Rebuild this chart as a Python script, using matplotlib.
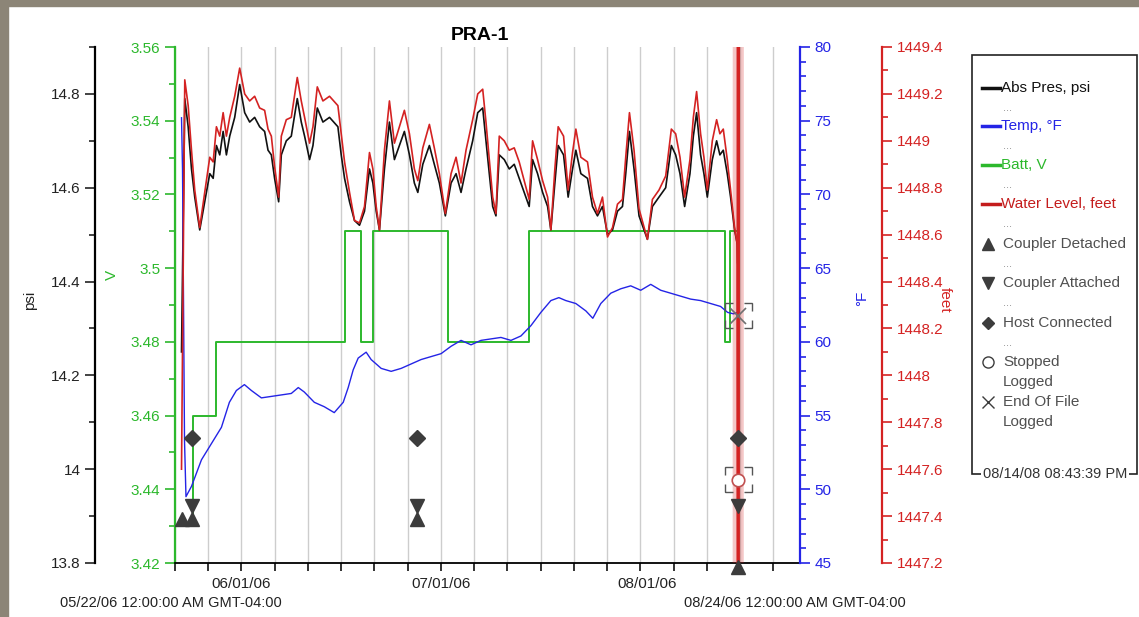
import matplotlib.pyplot as plt
import matplotlib.dates as mdates
import numpy as np
import pandas as pd
from matplotlib.lines import Line2D
from matplotlib.patches import Rectangle
from matplotlib.ticker import MultipleLocator, FuncFormatter, NullFormatter

plt.rcParams['font.family'] = ['Liberation Sans', 'DejaVu Sans']

start = pd.Timestamp('2006-05-22 00:00')
end = pd.Timestamp('2006-08-24 00:00')

# readings, time in days since 05/22/06 00:00
level_days = [0.98, 1.47, 1.98, 2.48, 2.97, 3.72, 4.47, 5.23, 5.74, 6.23, 6.73, 7.24, 7.73, 8.23,
              8.98, 9.73, 10.48, 11.23, 11.98, 12.73, 13.48, 13.99, 14.49, 14.98, 15.59, 15.99,
              16.74, 17.49, 18.39, 18.99, 19.49, 20.24, 20.75, 21.40, 22.25, 23.24, 24.50, 25.00,
              25.50, 26.25, 27.00, 27.75, 28.50, 29.25, 29.76, 30.26, 30.75, 31.50, 32.25, 33.00,
              33.75, 34.50, 35.26, 36.00, 36.52, 37.27, 38.26, 39.00, 39.76, 40.66, 41.52, 42.27,
              43.02, 43.77, 44.77, 45.53, 46.28, 46.77, 47.27, 47.78, 48.27, 48.77, 49.52, 50.27,
              51.02, 51.77, 52.52, 53.27, 53.78, 54.53, 55.29, 56.04, 56.53, 57.13, 57.63, 58.44,
              59.13, 59.79, 60.29, 61.04, 62.04, 62.79, 63.54, 64.29, 65.05, 65.80, 66.55, 67.30,
              67.79, 68.35, 69.04, 69.79, 71.05, 71.80, 72.79, 73.80, 74.65, 75.30, 75.95, 76.65,
              77.45, 77.96, 78.45, 79.05, 79.55, 80.06, 80.81, 81.46, 81.95, 82.46, 83.06, 83.56,
              84.16, 84.56]
pres_psi = [14.25, 14.79, 14.73, 14.64, 14.58, 14.51, 14.57, 14.63, 14.62, 14.69, 14.67, 14.72,
            14.67, 14.71, 14.75, 14.82, 14.76, 14.74, 14.75, 14.73, 14.72, 14.68, 14.67, 14.62,
            14.57, 14.67, 14.70, 14.71, 14.79, 14.74, 14.71, 14.66, 14.69, 14.77, 14.74, 14.75,
            14.73, 14.67, 14.62, 14.57, 14.53, 14.52, 14.55, 14.64, 14.61, 14.55, 14.51, 14.64,
            14.74, 14.66, 14.69, 14.72, 14.67, 14.61, 14.59, 14.65, 14.69, 14.65, 14.61, 14.54,
            14.61, 14.63, 14.59, 14.64, 14.70, 14.76, 14.77, 14.70, 14.63, 14.56, 14.54, 14.67,
            14.66, 14.64, 14.65, 14.62, 14.59, 14.56, 14.66, 14.63, 14.59, 14.56, 14.51, 14.61,
            14.69, 14.67, 14.58, 14.64, 14.68, 14.63, 14.62, 14.56, 14.54, 14.56, 14.50, 14.51,
            14.55, 14.56, 14.63, 14.72, 14.64, 14.54, 14.49, 14.56, 14.58, 14.60, 14.69, 14.67,
            14.63, 14.56, 14.63, 14.71, 14.76, 14.67, 14.63, 14.58, 14.66, 14.70, 14.67, 14.68,
            14.63, 14.58, 14.51, 14.48]
water_ft = [1447.60, 1449.26, 1449.15, 1448.96, 1448.79, 1448.63, 1448.78, 1448.93, 1448.91,
            1449.06, 1449.02, 1449.12, 1449.02, 1449.10, 1449.19, 1449.31, 1449.20, 1449.17,
            1449.19, 1449.14, 1449.13, 1449.05, 1449.02, 1448.89, 1448.76, 1449.02, 1449.09,
            1449.10, 1449.27, 1449.17, 1449.10, 1448.99, 1449.06, 1449.23, 1449.17, 1449.19,
            1449.15, 1449.03, 1448.91, 1448.78, 1448.66, 1448.65, 1448.72, 1448.95, 1448.88,
            1448.72, 1448.62, 1448.96, 1449.17, 1448.99, 1449.06, 1449.13, 1449.03, 1448.88,
            1448.83, 1448.97, 1449.07, 1448.97, 1448.86, 1448.69, 1448.86, 1448.93, 1448.82,
            1448.96, 1449.09, 1449.20, 1449.22, 1449.08, 1448.92, 1448.76, 1448.69, 1449.02,
            1449.00, 1448.96, 1448.97, 1448.91, 1448.83, 1448.75, 1449.00, 1448.92, 1448.83,
            1448.76, 1448.62, 1448.88, 1449.06, 1449.02, 1448.79, 1448.95, 1449.05, 1448.93,
            1448.91, 1448.76, 1448.69, 1448.76, 1448.59, 1448.63, 1448.73, 1448.75, 1448.93,
            1449.12, 1448.96, 1448.71, 1448.58, 1448.75, 1448.79, 1448.85, 1449.05, 1449.03,
            1448.93, 1448.76, 1448.92, 1449.10, 1449.21, 1449.03, 1448.93, 1448.79, 1449.00,
            1449.09, 1449.03, 1449.05, 1448.92, 1448.79, 1448.63, 1448.56]
# logger pulled out at the end
pres_tail_days = [84.62]
pres_tail = [14.44]
water_tail_days = [84.70, 84.72]
water_tail = [1446.5, 1450.0]

temp_days = [0.98, 1.13, 1.28, 1.43, 1.65, 2.48, 3.23, 3.98, 5.48, 6.98, 8.18, 9.23, 10.44, 11.49,
             12.99, 14.49, 15.99, 17.49, 18.54, 19.44, 20.95, 22.45, 23.95, 25.30, 26.05, 26.80,
             27.55, 28.75, 29.50, 31.01, 32.51, 34.01, 35.51, 37.01, 38.51, 40.02, 41.52, 43.02,
             44.52, 46.02, 47.52, 49.02, 50.53, 52.03, 53.53, 55.03, 56.53, 57.73, 58.78, 60.29,
             61.79, 62.84, 64.04, 65.54, 67.04, 68.54, 70.05, 71.55, 73.05, 74.55, 76.05, 77.55,
             79.05, 80.56, 82.06, 83.11, 84.01, 84.61, 84.68, 84.70]
temp_f = [75.2, 71.7, 62.8, 53.3, 49.5, 50.2, 51.1, 52.0, 53.1, 54.2, 55.9, 56.7, 57.1, 56.7,
          56.2, 56.3, 56.4, 56.5, 56.9, 56.6, 55.9, 55.6, 55.2, 55.9, 56.9, 58.1, 58.9, 59.3,
          58.8, 58.2, 58.0, 58.2, 58.5, 58.8, 59.0, 59.2, 59.7, 60.1, 59.8, 60.1, 60.2, 60.3,
          60.1, 60.4, 61.1, 62.0, 62.8, 63.0, 62.8, 62.6, 62.1, 61.6, 62.6, 63.3, 63.6, 63.8,
          63.5, 63.9, 63.5, 63.3, 63.1, 62.9, 62.8, 62.6, 62.4, 62.0, 61.9, 62.0, 71.7, 76.4]

batt_days = [0.7, 2.7, 6.2, 25.6, 28.0, 29.8, 41.0, 53.2, 82.7, 83.4, 84.6]
batt_v = [3.43, 3.46, 3.48, 3.51, 3.48, 3.51, 3.48, 3.51, 3.48, 3.51, 3.51]

detached_days = [0.98, 2.6, 36.4, 84.75]
attached_days = [2.6, 36.4, 84.75]
host_days = [2.6, 36.4, 84.75]
stopped_days = [84.75]
eof_days = [84.75]

month_ticks = ['2006-06-01', '2006-07-01', '2006-08-01']
month_labels = ['06/01/06', '07/01/06', '08/01/06']


def when(days):
    return (start + pd.to_timedelta(np.asarray(days), unit='D')).to_numpy()


W, H = 1139, 617


def fx(px):
    return px / W


def fy(py):
    return 1 - py / H


black = '#111111'
green = '#2cb82c'
blue = '#2424e6'
red = '#d42222'
grey = '#3c3c3c'
fmt = FuncFormatter(lambda v, p: f'{round(v, 3):g}')

fig = plt.figure(figsize=(W / 100, H / 100), dpi=100)
fig.add_artist(Rectangle((0, 0), fx(8), 1, transform=fig.transFigure, color='#8c8577', zorder=0))
fig.add_artist(Rectangle((0, fy(6)), 1, 6 / H, transform=fig.transFigure, color='#8c8577', zorder=0))

ax_v = fig.add_axes([fx(175), fy(563), (800 - 175) / W, (563 - 47) / H])
ax_p = ax_v.twinx()
ax_t = ax_v.twinx()
ax_w = ax_v.twinx()
for a in (ax_v, ax_p, ax_t, ax_w):
    for s in a.spines.values():
        s.set_visible(False)

# battery axis (host, green spine on the left of the plot)
ax_v.spines['left'].set_visible(True)
ax_v.spines['left'].set_color(green)
ax_v.spines['left'].set_linewidth(1.6)
ax_v.spines['bottom'].set_visible(True)
ax_v.spines['bottom'].set_linewidth(1.3)
ax_v.set_ylim(3.42, 3.56)
ax_v.yaxis.set_major_locator(MultipleLocator(0.02))
ax_v.yaxis.set_minor_locator(MultipleLocator(0.01))
ax_v.yaxis.set_major_formatter(fmt)
ax_v.tick_params(axis='y', which='both', colors=green, labelsize=11, width=1.2)
ax_v.tick_params(axis='y', which='major', length=7)
ax_v.tick_params(axis='y', which='minor', length=4)

# pressure axis, further left
ax_p.yaxis.tick_left()
ax_p.spines['left'].set_visible(True)
ax_p.spines['left'].set_position(('axes', -80 / 625))
ax_p.spines['left'].set_linewidth(1.6)
ax_p.set_ylim(13.8, 14.9)
ax_p.yaxis.set_major_locator(MultipleLocator(0.2))
ax_p.yaxis.set_minor_locator(MultipleLocator(0.1))
ax_p.yaxis.set_major_formatter(fmt)
ax_p.tick_params(axis='y', which='both', colors='#222222', labelsize=11, width=1.2)
ax_p.tick_params(axis='y', which='major', length=7)
ax_p.tick_params(axis='y', which='minor', length=4)

# temperature axis, right edge of plot
ax_t.spines['right'].set_visible(True)
ax_t.spines['right'].set_color(blue)
ax_t.spines['right'].set_linewidth(1.6)
ax_t.set_ylim(45, 80)
ax_t.yaxis.set_major_locator(MultipleLocator(5))
ax_t.yaxis.set_minor_locator(MultipleLocator(1))
ax_t.tick_params(axis='y', which='both', colors=blue, labelsize=11, width=1.2)
ax_t.tick_params(axis='y', which='major', length=7)
ax_t.tick_params(axis='y', which='minor', length=4)

# water level axis, further right
ax_w.spines['right'].set_visible(True)
ax_w.spines['right'].set_position(('axes', 707 / 625))
ax_w.spines['right'].set_color(red)
ax_w.spines['right'].set_linewidth(1.6)
ax_w.set_ylim(1447.2, 1449.4)
ax_w.yaxis.set_major_locator(MultipleLocator(0.2))
ax_w.yaxis.set_minor_locator(MultipleLocator(0.1))
ax_w.yaxis.set_major_formatter(fmt)
ax_w.tick_params(axis='y', which='both', colors=red, labelsize=11, width=1.2)
ax_w.tick_params(axis='y', which='major', length=7)
ax_w.tick_params(axis='y', which='minor', length=4)

# time axis: 5-day grid, month labels
ax_v.set_xlim(start, end)
ax_v.xaxis.remove_overlapping_locs = False
ax_v.set_xticks(pd.date_range(start, end, freq='5D'))
ax_v.xaxis.set_major_formatter(NullFormatter())
ax_v.set_xticks(pd.to_datetime(month_ticks), labels=month_labels, minor=True)
ax_v.tick_params(axis='x', which='major', length=6, width=1.2, color=black)
ax_v.tick_params(axis='x', which='minor', length=0, pad=10, labelsize=11, labelcolor='#222222')
ax_v.grid(axis='x', which='major', color='#cdcdcd', lw=1)

# series
ax_v.plot(when(batt_days), batt_v, drawstyle='steps-post', color=green, lw=1.4)
ax_p.plot(when(level_days + pres_tail_days), pres_psi + pres_tail, color=black, lw=1.2)
ax_t.plot(when(temp_days), temp_f, color=blue, lw=1.0)
ax_w.plot(when(level_days + water_tail_days), water_ft + water_tail, color=red, lw=1.2)
ax_w.plot(when(water_tail_days), water_tail, color=red, lw=8, alpha=0.25, solid_capstyle='butt')
ax_w.plot(when(water_tail_days), water_tail, color=red, lw=2.5)

# event markers (rows given as fraction of plot height)
tr = ax_w.get_xaxis_transform()
ax_w.plot(when(detached_days), [0.085, 0.085, 0.085, -0.008], '^', color=grey, ms=10,
          transform=tr, clip_on=False, zorder=5)
ax_w.plot(when(attached_days), [0.111] * 3, 'v', color=grey, ms=10, transform=tr, zorder=5)
ax_w.plot(when(host_days), [0.242] * 3, 'D', color=grey, ms=8, transform=tr, zorder=5)
ax_w.plot(when(stopped_days), [0.161], 'o', mfc='white', mec='#c05050', ms=9, mew=1.2,
          transform=tr, zorder=5)
ax_w.plot(when(eof_days), [0.479], 'x', color='#707070', ms=11, mew=1.2, transform=tr, zorder=5)
for d, row in ((stopped_days[0], 0.161), (eof_days[0], 0.479)):
    xc = mdates.date2num(when([d])[0])
    ax_w.add_patch(Rectangle((xc - 2.03, row - 0.0242), 4.06, 0.0484, transform=tr, fill=False,
                             ec='#555555', lw=1.0, ls=(5.76, (11.52, 7.92, 11.52, 6.48)),
                             clip_on=False, zorder=5))

# texts
fig.text(fx(480), fy(35), 'PRA-1', ha='center', va='center', fontsize=14, fontweight='bold')
fig.text(fx(30), fy(300), 'psi', rotation=90, ha='center', va='center', fontsize=11, color='#222222')
fig.text(fx(112), fy(275), 'V', rotation=90, ha='center', va='center', fontsize=11, color=green)
fig.text(fx(862), fy(298), '°F', rotation=90, ha='center', va='center', fontsize=11, color=blue)
fig.text(fx(945), fy(300), 'feet', rotation=270, ha='center', va='center', fontsize=11, color=red)
fig.text(fx(60), fy(603), '05/22/06 12:00:00 AM GMT-04:00', ha='left', va='center', fontsize=10.5,
         color='#222222')
fig.text(fx(684), fy(603), '08/24/06 12:00:00 AM GMT-04:00', ha='left', va='center', fontsize=10.5,
         color='#222222')

# legend box
fig.add_artist(Rectangle((fx(972), fy(474)), (1137 - 972) / W, (474 - 55) / H,
                         transform=fig.transFigure, fill=False, ec='#222222', lw=1.2))
for label, c, py in (('Abs Pres, psi', black, 88), ('Temp, °F', blue, 126),
                     ('Batt, V', green, 165), ('Water Level, feet', '#c41c1c', 204)):
    fig.add_artist(Line2D([fx(982), fx(1000)], [fy(py), fy(py)], color=c, lw=2.5,
                          transform=fig.transFigure))
    fig.text(fx(1001), fy(py), label, color=c, va='center', fontsize=11)
    fig.text(fx(1003), fy(py + 20), '...', color='#888888', va='center', fontsize=8)
for label, m, py, dots in (('Coupler Detached', '^', 244, True), ('Coupler Attached', 'v', 283, True),
                           ('Host Connected', 'D', 323, True), ('Stopped', 'o', 362, False),
                           ('End Of File', 'x', 402, False)):
    mfc = 'white' if m == 'o' else grey
    ms = 6 if m == 'D' else 8
    fig.add_artist(Line2D([fx(988)], [fy(py)], marker=m, ls='none', color=grey, mfc=mfc, ms=ms,
                          transform=fig.transFigure))
    fig.text(fx(1003), fy(py), label, color='#505050', va='center', fontsize=11)
    if dots:
        fig.text(fx(1003), fy(py + 20), '...', color='#888888', va='center', fontsize=8)
    else:
        fig.text(fx(1003), fy(py + 20), 'Logged', color='#505050', va='center', fontsize=11)
fig.text(fx(1055), fy(474), '08/14/08 08:43:39 PM', ha='center', va='center', fontsize=10.5,
         color='#333333', bbox=dict(facecolor='white', edgecolor='none', pad=1))

fig.savefig('out.png', dpi=100)
